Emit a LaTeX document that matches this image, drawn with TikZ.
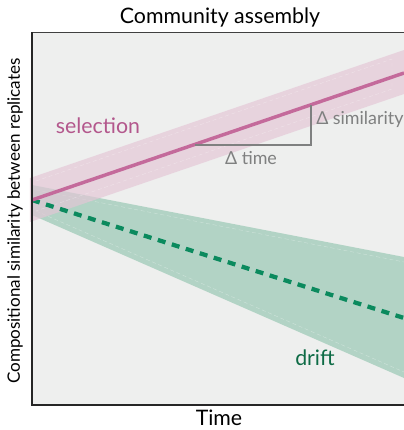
\documentclass[tikz,border=0pt]{standalone}
\usepackage{fontspec}
\setmainfont{Lato}
\usetikzlibrary{positioning}
\definecolor{panelgray}{HTML}{EEEFEE}
\definecolor{selline}{HTML}{C46A9B}
\definecolor{selband}{HTML}{E4C6D6}
\definecolor{driftband}{HTML}{A8CFBE}
\definecolor{driftline}{HTML}{0B8A5E}
\definecolor{drifttext}{HTML}{0D6B45}
\definecolor{seltext}{HTML}{B3578C}
\definecolor{deltagray}{HTML}{7F8080}

\begin{document}
\begin{tikzpicture}[
  x=0.75pt,y=-0.75pt,
  label/.style ={inner sep=0pt,font=\fontsize{16}{18}\selectfont},
  axislab/.style={inner sep=0pt,font=\fontsize{12.8}{14}\selectfont},
  delta/.style ={inner sep=0pt,text=deltagray,font=\fontsize{13.4}{15}\selectfont},
  band/.style  ={white,opacity=.35,densely dashed,line width=.3pt}
]
\useasboundingbox (0,0) rectangle (404,430);
% panel
\fill[panelgray] (32,32) rectangle (404,405);
% drift fan and selection band
\fill[driftband,opacity=.85] (32,185) -- (404,257) -- (404,378) -- (32,215) -- cycle;
\draw[band] (36,190) -- (404,262);
\draw[band] (36,211) -- (404,372);
\fill[selband,opacity=.68] (30,178) -- (404,50) -- (404,94) -- (30,222) -- cycle;
\draw[band] (36,181) -- (392,59) -- (392,89) -- (36,211);
% trends
\coordinate (s0) at (32,200);
\coordinate (s1) at (404,73);
\coordinate (d1) at (404,318);
\draw[driftline,line width=3.2pt,dash pattern=on 6pt off 5pt] (s0) -- (d1);
\draw[selline,line width=2.6pt] (s0) -- (s1);
% slope triangle
\coordinate (t0) at (195,144.5);
\coordinate (t1) at (311,144.5);
\coordinate (t2) at (311,104.5);
\draw[deltagray,line width=1.5pt] (t0) -- (t1) -- (t2);
\node[delta,anchor=west] (dsim) at (316,119) {Δ similarity};
\node[delta] (dtime) at (251,158) {Δ time};
% axes
\draw[black!75,line width=.6pt] (32,32) -- (404,32);
\draw[black!85,line width=1.5pt] (32,32) -- (32,405) -- (404,405);
% labels
\node[label] (title) at (220,17) {Community assembly};
\node[label] (xlab) at (219,418) {Time};
\node[axislab,rotate=90] (ylab) at (15,221) {Compositional similarity between replicates};
\node[label,text=seltext] (sel) at (98,126) {selection};
\node[label,text=drifttext] (drift) at (315,358) {drift};
\end{tikzpicture}
\end{document}
